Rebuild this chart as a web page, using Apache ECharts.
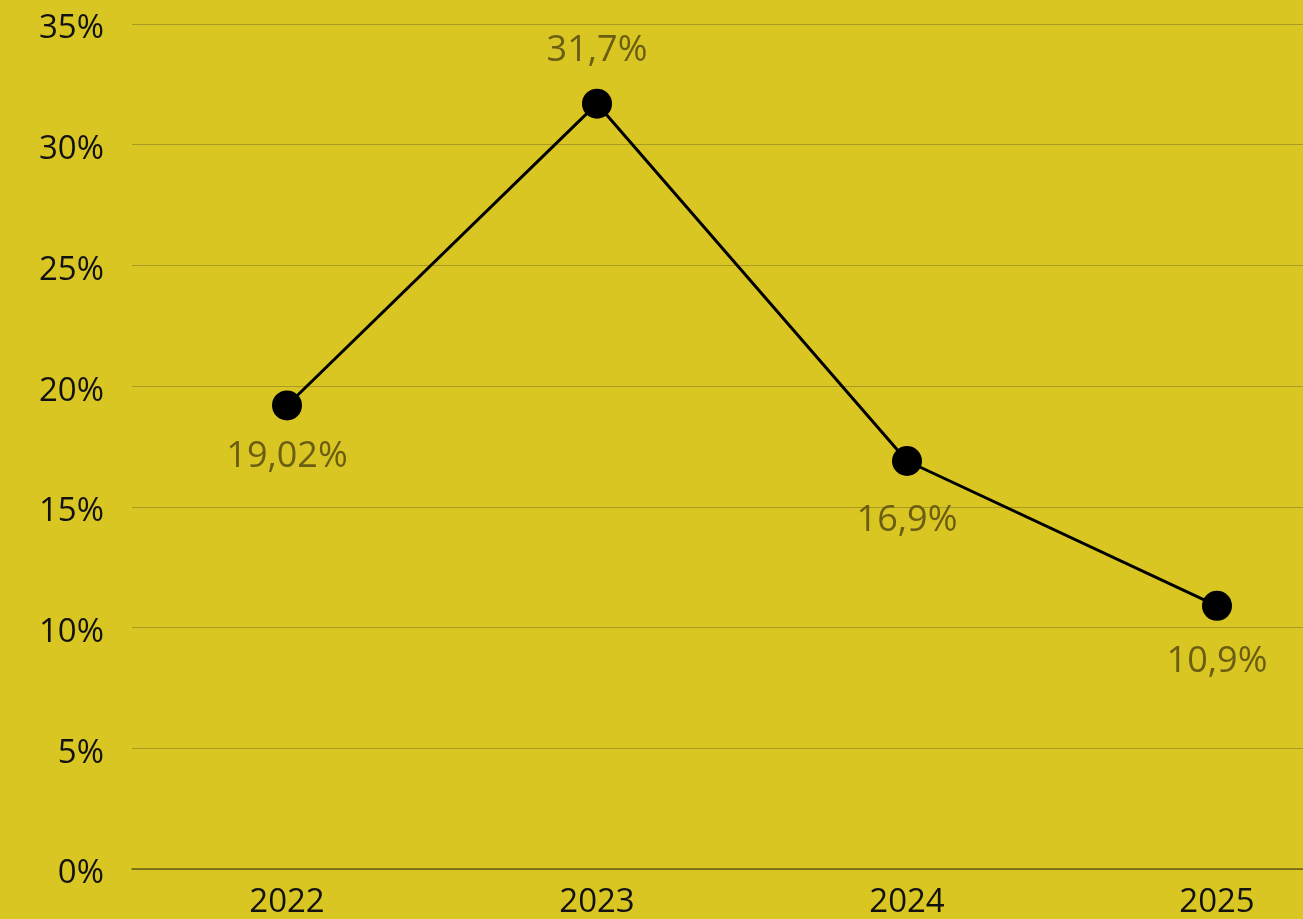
<!DOCTYPE html>
<html>
<head>
<meta charset="utf-8">
<script src="https://cdn.jsdelivr.net/npm/echarts@6/dist/echarts.min.js"></script>
<style>
html,body{margin:0;padding:0;background:#DAC623;overflow:hidden;}
#chart{width:1303px;height:919px;}
</style>
</head>
<body>
<div id="chart"></div>
<script>
const categories = ["2022", "2023", "2024", "2025"];
const values = [19.2, 31.7, 16.9, 10.9];
const valueLabels = ["19,02%", "31,7%", "16,9%", "10,9%"];
const labelPositions = ["bottom", "top", "bottom", "bottom"];
const labelDistances = [18, 20, 27, 23];
const yTicks = { min: 0, max: 35, interval: 5 };

const chart = echarts.init(document.getElementById('chart'));
const font = '"Open Sans", "Noto Sans", sans-serif';
chart.setOption({
  backgroundColor: '#DAC623',
  animation: false,
  grid: { left: 132, width: 1240, top: 24, bottom: 50, containLabel: false, outerBoundsMode: 'none' },
  xAxis: {
    type: 'category',
    data: categories,
    boundaryGap: true,
    axisLine: { show: true, lineStyle: { color: '#6A5F12', width: 1.5 } },
    axisTick: { show: false },
    axisLabel: { color: '#111', fontFamily: font, fontSize: 33, margin: 17 }
  },
  yAxis: {
    type: 'value',
    min: yTicks.min, max: yTicks.max, interval: yTicks.interval,
    axisLine: { show: false },
    axisTick: { show: false },
    splitLine: { lineStyle: { color: '#A89A22', width: 1 } },
    axisLabel: {
      color: '#111', fontFamily: font, fontSize: 33, margin: 28,
      formatter: v => '{a|' + v + '%}',
      rich: { a: { color: '#111', fontFamily: font, fontSize: 33, padding: [10, 0, 0, 0] } }
    }
  },
  series: [{
    type: 'line',
    data: values.map((v, i) => ({
      value: v,
      label: { position: labelPositions[i], distance: labelDistances[i] }
    })),
    symbol: 'circle',
    symbolSize: 30,
    itemStyle: { color: '#000' },
    lineStyle: { color: '#000', width: 3 },
    label: {
      show: true,
      color: '#6B5E12',
      fontFamily: font,
      fontSize: 36,
      formatter: p => valueLabels[p.dataIndex]
    }
  }]
});
</script>
</body>
</html>
